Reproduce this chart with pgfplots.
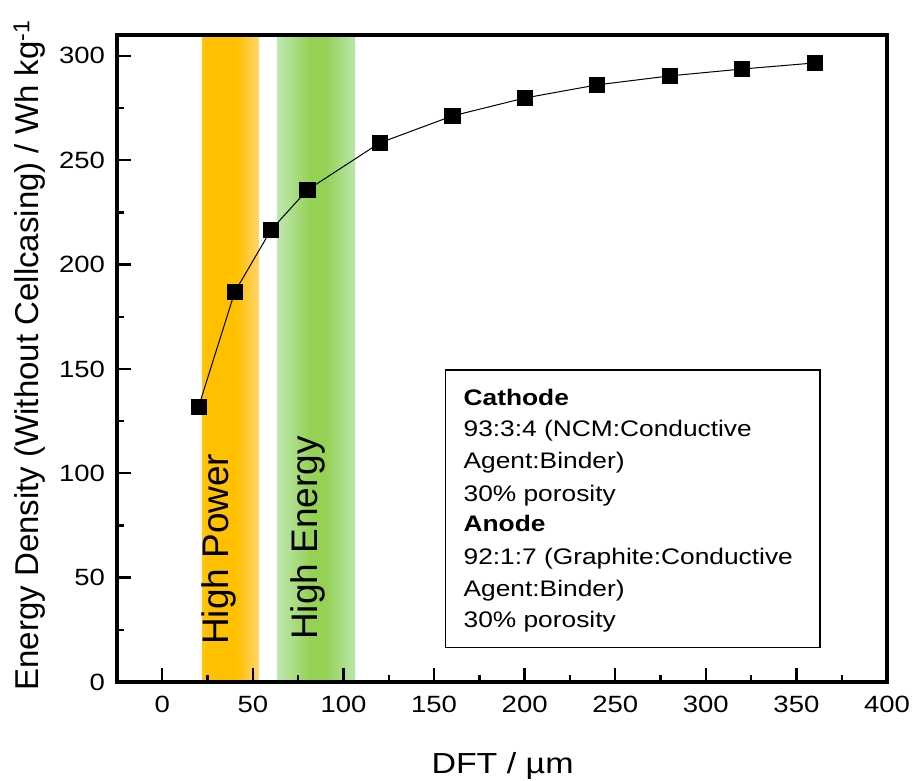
\documentclass[border=0pt]{standalone}
\usepackage{fontspec}
\setmainfont{Liberation Sans}
\newfontfamily\widesans{Liberation Sans}[FakeStretch=1.17]
\usepackage{pgfplots}
\pgfplotsset{compat=1.18}

% band colours
\definecolor{orA}{HTML}{FFF3D6}
\definecolor{orB}{HTML}{FFD356}
\definecolor{orC}{HTML}{FFC000}
\definecolor{orD}{HTML}{FFD46A}
\definecolor{orE}{HTML}{FFE9B0}
\definecolor{orF}{HTML}{FFFAEE}
\definecolor{grA}{HTML}{F0FDF6}
\definecolor{grB}{HTML}{CFF2DC}
\definecolor{grC}{HTML}{B2E196}
\definecolor{grD}{HTML}{95D155}
\definecolor{grE}{HTML}{B4E39E}
\definecolor{grF}{HTML}{D4F5E2}
\definecolor{grG}{HTML}{F0FDF7}

\pgfdeclarehorizontalshading{orangeband}{100bp}{%
  color(0bp)=(orA); color(12bp)=(orB); color(30bp)=(orC); color(55bp)=(orC);
  color(74bp)=(orD); color(90bp)=(orE); color(100bp)=(orF)}
\pgfdeclarehorizontalshading{greenband}{100bp}{%
  color(0bp)=(grA); color(14bp)=(grB); color(32bp)=(grC); color(46bp)=(grD);
  color(56bp)=(grD); color(72bp)=(grE); color(88bp)=(grF); color(100bp)=(grG)}

\begin{document}
\begin{tikzpicture}
\path[use as bounding box] (-117pt,-98pt) rectangle (795pt,682pt);
\begin{axis}[
  at={(0,0)}, anchor=south west,
  scale only axis, width=770pt, height=647pt,
  xmin=-25, xmax=400, ymin=0, ymax=310,
  xtick={0,50,...,400}, ytick={0,50,...,300},
  minor x tick num=1, minor y tick num=1,
  tick pos=left, tick align=inside,
  major tick length=14pt, minor tick length=7.5pt,
  major tick style={black, line width=2.4pt},
  minor tick style={black, line width=2.4pt},
  axis line style={line width=3.2pt},
  axis on top,
  /pgf/number format/assume math mode=true,
  ticklabel style={font=\widesans\fontsize{23.5}{28}\selectfont},
  xticklabel style={yshift=-11pt},
  yticklabel style={xshift=-8.5pt},
  xlabel={DFT / µm},
  ylabel={Energy Density (Without Cellcasing) / Wh kg\textsuperscript{-1}},
  xlabel style={at={(axis description cs:0.5007,-0.14065)}, anchor=base,
    font=\widesans\fontsize{29}{34}\selectfont},
  ylabel style={at={(axis description cs:-0.10195,0.505)}, anchor=base,
    font=\fontsize{33}{38}\selectfont},
]
% design regions
\shade[shading=orangeband] (axis cs:21.9,0) rectangle (axis cs:53.5,310);
\shade[shading=greenband] (axis cs:63.3,0) rectangle (axis cs:106.5,310);
\node[rotate=90, anchor=base west, font=\fontsize{37}{44}\selectfont]
  at (axis cs:36.6,16.1) {High Power};
\node[rotate=90, anchor=base west, font=\fontsize{37}{44}\selectfont]
  at (axis cs:85.4,18.5) {High Energy};

% energy density vs. dry film thickness
\addplot[black, line width=1pt, mark=square*, mark size=7.6pt,
  mark options={solid, fill=black, draw=black, line width=0.5pt}]
  coordinates {(20,131.8) (40,186.9) (60,216.6) (80,235.7) (120,258.3)
    (160,271.2) (200,279.8) (240,286.1) (280,290.4) (320,293.7) (360,296.6)};

% composition box
\draw[line width=1.1pt, fill=white] (axis cs:156.1,149.5) rectangle (axis cs:363,16.6);
\begin{scope}[every node/.style={anchor=base west, inner sep=0pt,
    font=\widesans\fontsize{22.5}{27}\selectfont}]
\node at (axis cs:166.2,132.7) {\textbf{Cathode}};
\node at (axis cs:166.2,117.4) {93:3:4 (NCM:Conductive};
\node at (axis cs:166.2,102.1) {Agent:Binder)};
\node at (axis cs:166.2,86.7) {30\% porosity};
\node at (axis cs:166.2,71.9) {\textbf{Anode}};
\node at (axis cs:166.2,56.5) {92:1:7 (Graphite:Conductive};
\node at (axis cs:166.2,41.2) {Agent:Binder)};
\node at (axis cs:166.2,25.9) {30\% porosity};
\end{scope}
\end{axis}
\end{tikzpicture}
\end{document}
